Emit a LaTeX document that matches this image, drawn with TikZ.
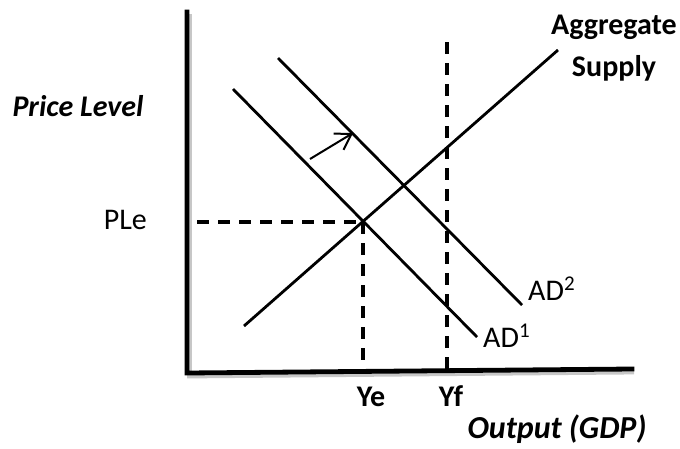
\documentclass[tikz,border=0pt]{standalone}
\usepackage{fontspec}
\setmainfont{Carlito}
\usetikzlibrary{arrows.meta,positioning,calc}
\tikzset{>=Stealth}

\begin{document}
\begin{tikzpicture}[x=1pt,y=-1pt,
    axis/.style={line width=4.8pt, line cap=rect, line join=miter},
    shade/.style={line width=4.8pt, draw=black!22},
    curve/.style={line width=2.8pt},
    guide/.style={line width=3.2pt, dash pattern=on 12pt off 9pt},
    every node/.style={inner sep=0pt, font=\fontsize{30}{36}\selectfont}
  ]
  \useasboundingbox (0,0) rectangle (680,448);
  % axes
  \coordinate (ytop) at (187,12);
  \coordinate (orig) at (187,373);
  \coordinate (xend) at (632,369);
  \draw[shade] (189.5,14) -- (189.5,376) -- (634,372);
  \draw[axis] (ytop) -- (orig) -- (xend);

  % curves
  \coordinate (as1) at (244,326);  \coordinate (as2) at (558,50);
  \coordinate (ad1a) at (233,89);  \coordinate (ad1b) at (477,337);
  \coordinate (ad2a) at (278,58);  \coordinate (ad2b) at (522,305);
  \draw[curve] (as1) -- (as2);
  \draw[curve] (ad1a) -- (ad1b);
  \draw[curve] (ad2a) -- (ad2b);

  % equilibrium and full employment
  \coordinate (eq) at (363,222);
  \coordinate (ple) at (197,222);
  \coordinate (ye) at (363,370);
  \coordinate (yftop) at (447,42);
  \coordinate (yf) at (447,370);
  \draw[guide] (ple) -- (eq);
  \draw[guide] (eq) -- (ye);
  \draw[guide] (yftop) -- (yf);

  % shift
  \coordinate (s1) at (310,159);
  \coordinate (s2) at (353,133);
  \draw[line width=2pt, -{Straight Barb[length=15pt,width=19pt]}] (s1) -- (s2);

  % labels
  \node[anchor=base] (price) at (78,116) {\bfseries\itshape Price Level};
  \node[anchor=base east] (plelbl) at (147,229) {PLe};
  \node[anchor=base] (aslbl) at (614,34) {\bfseries Aggregate};
  \node[anchor=base] (supply) at (614,76) {\bfseries Supply};
  \node[anchor=base west] (ad2lbl) at (528,300) {AD\textsuperscript{2}};
  \node[anchor=base west] (ad1lbl) at (483,347) {AD\textsuperscript{1}};
  \node[anchor=base] (yelbl) at (371,406) {\bfseries Ye};
  \node[anchor=base] (yflbl) at (451,406) {\bfseries Yf};
  \node[anchor=base, font=\fontsize{32}{36}\selectfont] (outlbl) at (557,438) {\bfseries\itshape Output (GDP)};
\end{tikzpicture}
\end{document}
